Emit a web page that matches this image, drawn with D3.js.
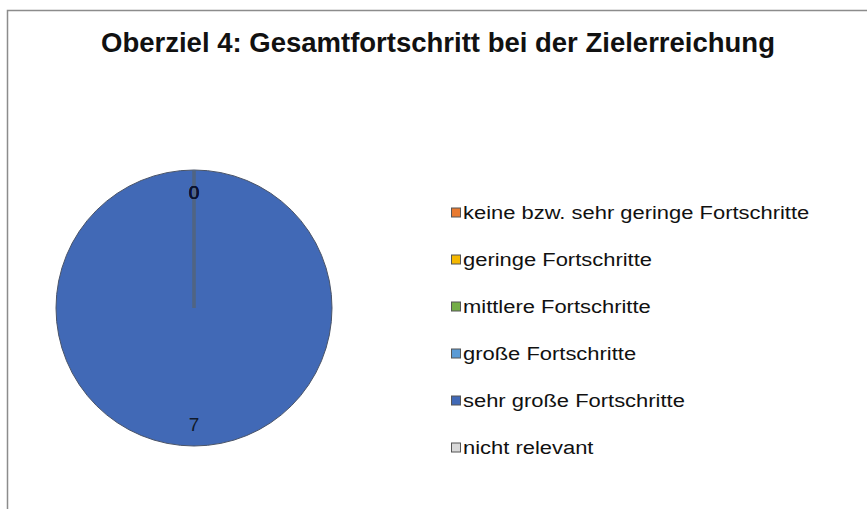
<!DOCTYPE html>
<html>
<head>
<meta charset="utf-8">
<script src="https://cdn.jsdelivr.net/npm/d3@7"></script>
<style>
  body { margin: 0; background: #fff; }
  text { font-family: "Liberation Sans", Arial, sans-serif; }
</style>
</head>
<body>
<script>
// chart data
const title = 'Oberziel 4: Gesamtfortschritt bei der Zielerreichung'
const categories = [
    'keine bzw. sehr geringe Fortschritte',
    'geringe Fortschritte',
    'mittlere Fortschritte',
    'große Fortschritte',
    'sehr große Fortschritte',
    'nicht relevant'
]
const values = [0, 0, 0, 0, 7, 0]
const colors = ['#e87a30', '#f5b800', '#74ad47', '#5b9bd5', '#4169b6', '#d9d9d9']

const W = 867, H = 509

const svg = d3.select('body').append('svg')
    .attr('width', W)
    .attr('height', H)

// chart area frame (only left and top edges are visible)
svg.append('path')
    .attr('d', `M7.5,${H} V10.5 H${W}`)
    .attr('fill', 'none')
    .attr('stroke', '#8c8c8c')
    .attr('stroke-width', 1.5)

svg.append('text')
    .attr('x', 438)
    .attr('y', 52)
    .attr('text-anchor', 'middle')
    .attr('font-size', 27.5)
    .attr('font-weight', 'bold')
    .attr('fill', '#111')
    .text(title)

const cx = 194, cy = 308, r = 138

const data = categories.map((c, i) => ({ name: c, value: values[i], color: colors[i] }))

const pie = d3.pie()
    .value(d => d.value)
    .sort(null)

const arcs = pie(data)

const arc = d3.arc().innerRadius(0).outerRadius(r)
const labelArc = d3.arc().innerRadius(r * 0.84).outerRadius(r * 0.84)

const g = svg.append('g').attr('transform', `translate(${cx},${cy})`)

g.selectAll('path.slice')
    .data(arcs)
    .enter().append('path')
    .attr('class', 'slice')
    .attr('d', arc)
    .attr('fill', d => d.data.color)
    .attr('stroke', '#4a5468')
    .attr('stroke-width', 1)

// zero-value slices collapse to a radius line
g.selectAll('line.zero')
    .data(arcs.filter(d => d.value === 0))
    .enter().append('line')
    .attr('class', 'zero')
    .attr('x1', 0).attr('y1', 0)
    .attr('x2', d => r * Math.sin(d.startAngle))
    .attr('y2', d => -r * Math.cos(d.startAngle))
    .attr('stroke', '#506483')
    .attr('stroke-width', 2.5)

g.selectAll('text.lbl')
    .data(arcs)
    .enter().append('text')
    .attr('class', 'lbl')
    .attr('transform', d => `translate(${labelArc.centroid(d)})`)
    .attr('text-anchor', 'middle')
    .attr('dy', '0.35em')
    .attr('font-size', 19)
    .attr('fill', d => d.value === 0 ? '#0a1230' : '#111a2a')
    .text(d => d.value)

// legend
const legend = svg.append('g').attr('transform', 'translate(451,212.5)')

const row = legend.selectAll('g')
    .data(data)
    .enter().append('g')
    .attr('transform', (d, i) => `translate(0,${i * 47})`)

row.append('rect')
    .attr('x', 0.5)
    .attr('y', -4.5)
    .attr('width', 9)
    .attr('height', 9)
    .attr('fill', d => d.color)
    .attr('stroke', '#555')
    .attr('stroke-width', 1)

row.append('text')
    .attr('transform', 'translate(12,0) scale(1.155,1)')
    .attr('y', 6)
    .attr('font-size', 19)
    .attr('fill', '#111')
    .text(d => d.name)
</script>
</body>
</html>
